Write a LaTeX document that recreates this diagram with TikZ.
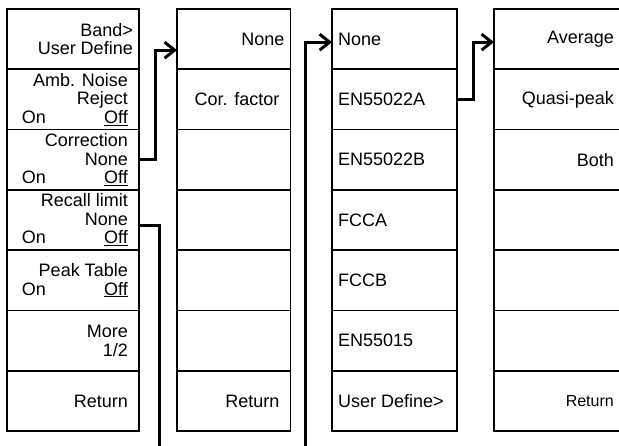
\documentclass[tikz,border=0pt]{standalone}
\usepackage{fontspec}
\setmainfont{Liberation Sans}
\usetikzlibrary{arrows.meta,positioning,calc}
\tikzset{
  every node/.style={font=\fontsize{18}{18.5}\selectfont},
  key/.style ={draw, line width=1.8pt, minimum height=60.3pt, inner sep=0pt, outer sep=0pt},
  txt/.style ={inner sep=0pt},
  ar/.style  ={-{Straight Barb[length=10pt,width=16pt]}, line width=3pt},
  wire/.style={line width=3pt},
}
\newcommand{\onoff}{\hbox to 106pt{On\hfill\underline{Off}}}

\begin{document}
\begin{tikzpicture}[x=1pt, y=1pt]
\useasboundingbox (0,0) rectangle (619,-446);
\clip (0,0) rectangle (619,-446);

% ---------------- column 1: main soft keys ----------------
\foreach \txt [count=\i] in {{Band>\\User Define}, {Amb. Noise\\Reject\\\onoff},
    {Correction\\None\\\onoff}, {Recall limit\\None\\\onoff}, {Peak Table\\\onoff},
    {More\\1/2}, Return}{
  \pgfmathsetmacro\pad{\i==1 ? 6 : 11}
  \node[key, minimum width=132pt] (a\i) at (73, {-9-60.3*(\i-0.5)}) {};
  \node[txt, anchor=east, align=right] at ($(a\i.east)+(-\pad,0)$) {\txt};
}

% ---------------- column 2: correction ----------------
\foreach \txt [count=\i] in {None, Cor. factor, {}, {}, {}, {}, Return}{
  \pgfmathsetmacro\pad{\i==1 ? 6 : 11}
  \node[key, minimum width=113.5pt] (b\i) at (233.75, {-9-60.3*(\i-0.5)}) {};
  \node[txt, anchor=east] at ($(b\i.east)+(-\pad,0)$) {\txt};
}

% ---------------- column 3: limit lines ----------------
\foreach \txt [count=\i] in {None, EN55022A, EN55022B, FCCA, FCCB, EN55015, User Define>}{
  \node[key, minimum width=125pt] (c\i) at (394.5, {-9-60.3*(\i-0.5)}) {};
  \node[txt, anchor=west] at ($(c\i.west)+(6,0)$) {\txt};
}

% ---------------- column 4: detector ----------------
\foreach \txt [count=\i] in {Average, Quasi-peak, Both, {}, {}, {},
    {\fontsize{16}{18}\selectfont Return}}{
  \node[key, minimum width=130pt] (d\i) at (559, {-9-60.3*(\i-0.5)}) {};
  \node[txt, anchor=east] at ($(d\i.east)+(-10,0)$) {\txt};
}

% ---------------- connectors ----------------
\coordinate (rl) at (159,-452);
\coordinate (ud) at (305,-452);
\draw[ar] (a3.east) -- ++(16,0) |- ($(b1.west)+(0,-11)$);
\draw[wire] ($(a4.east)+(0,-5)$) -| (rl);
\draw[ar] (ud) |- ($(c1.west)+(0,-3)$);
\draw[ar] (c2.east) -- ++(16,0) |- ($(d1.west)+(0,-3)$);

\end{tikzpicture}
\end{document}
